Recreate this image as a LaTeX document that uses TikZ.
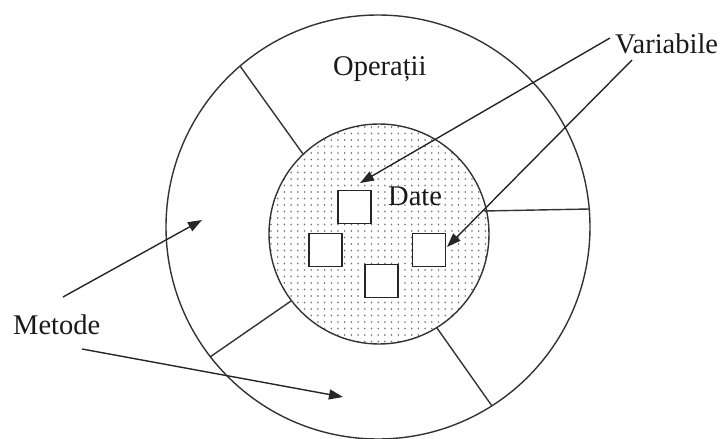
\documentclass[tikz,border=0pt]{standalone}
\usepackage{fontspec}
\setmainfont{Liberation Serif}
\usetikzlibrary{arrows.meta}
\begin{document}
\begin{tikzpicture}[x=1pt,y=-1pt,
  ring/.style={draw=black!80, line width=1.4pt},
  divider/.style={draw=black!80, line width=1.4pt},
  pointer/.style={draw=black!85, line width=1.4pt, -{Triangle[length=14pt,width=10pt]}},
  cell/.style={draw=black!85, fill=white, line width=1.4pt, minimum size=33pt, inner sep=0pt},
  lbl/.style={font=\fontsize{28.5}{30}\selectfont, inner sep=0pt, text=black!90, anchor=base west}
]
\useasboundingbox (0,0) rectangle (724,439);

% centres of the two rings
\coordinate (oc) at (378,227);
\coordinate (ic) at (379,234);

% dotted core
\begin{scope}
  \clip (ic) circle (110pt);
  \foreach \i in {0,...,33}
    \foreach \j in {0,...,34}
      \fill[black!55] (271+\i*6.7, 127+\j*6.5) ellipse (0.8pt and 1.05pt);
\end{scope}
\draw[ring] (ic) circle (110pt);
\draw[ring] (oc) circle (212pt);

% dividers between the sectors of the outer ring
\coordinate (d1o) at (240,66);    \coordinate (d1i) at (303,154);
\coordinate (d2o) at (589.5,209); \coordinate (d2i) at (484,211);
\coordinate (d3o) at (210,357);   \coordinate (d3i) at (291,301);
\coordinate (d4o) at (492,406);   \coordinate (d4i) at (437,328);
\draw[divider] (d1o) -- (d1i);
\draw[divider] (d2o) -- (d2i);
\draw[divider] (d3o) -- (d3i);
\draw[divider] (d4o) -- (d4i);

% data cells
\node[cell] (sqtop)    at (354.5,207) {};
\node[cell] (sqleft)   at (325.5,250) {};
\node[cell] (sqright)  at (429,250)   {};
\node[cell] (sqbottom) at (381.5,281) {};

% labels
\node[lbl] (oper) at (333,75)  {Operații};
\node[lbl] (date) at (388,205) {Date};
\node[lbl] (vars) at (615,53)  {Variabile};
\node[lbl] (meth) at (13,334)  {Metode};

% pointers
\coordinate (v1) at (610,38);  \coordinate (v1t) at (360,183);
\coordinate (v2) at (632,60);  \coordinate (v2t) at (447,247);
\coordinate (m1) at (63,297);  \coordinate (m1t) at (202,220);
\coordinate (m2) at (82,349);  \coordinate (m2t) at (343,397);
\draw[pointer] (v1) -- (v1t);
\draw[pointer] (v2) -- (v2t);
\draw[pointer] (m1) -- (m1t);
\draw[pointer] (m2) -- (m2t);
\end{tikzpicture}
\end{document}
